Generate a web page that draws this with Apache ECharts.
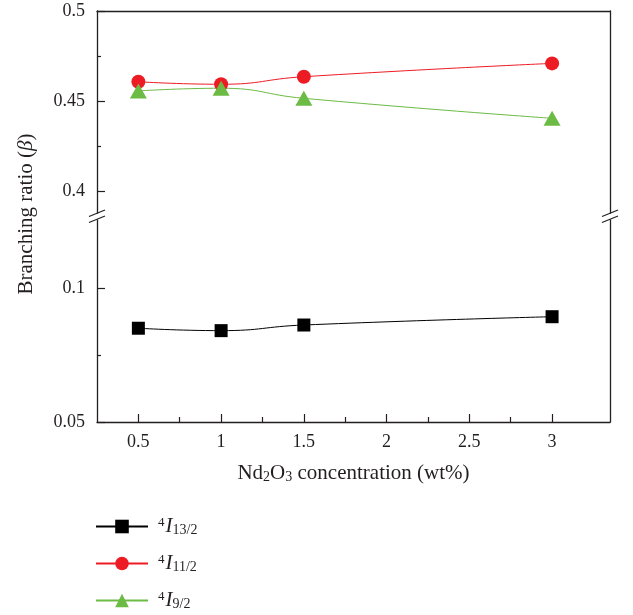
<!DOCTYPE html>
<html>
<head>
<meta charset="utf-8">
<script src="https://cdn.jsdelivr.net/npm/echarts@6/dist/echarts.min.js"></script>
<style>
  html, body { margin: 0; padding: 0; background: #fff; }
  #chart { width: 633px; height: 615px; }
</style>
</head>
<body>
<div id="chart"></div>
<script>
const concentration = [0.5, 1, 1.5, 3];
const beta13 = [0.0850, 0.0841, 0.0862, 0.0893];
const beta11 = [0.4607, 0.4593, 0.4635, 0.4709];
const beta9 = [0.4556, 0.4571, 0.4515, 0.4404];

const xTicks = [0.5, 1, 1.5, 2, 2.5, 3];
const xMinorTicks = [0.75, 1.25, 1.75, 2.25, 2.75];
const upperTicks = [0.4, 0.45, 0.5];
const upperMinorTicks = [0.425, 0.475];
const lowerTicks = [0.05, 0.1];
const lowerMinorTicks = [0.075];

const chart = echarts.init(document.getElementById('chart'));

const font = 'Liberation Serif';
const axisColor = '#231f20';
const colors = { i13: '#000000', i11: '#ed1c24', i9: '#6cbb45' };

const X_MIN = 0.25, X_MAX = 3.35;
const UP_MIN = 0.3878, UP_MAX = 0.5;
const LOW_MIN = 0.05, LOW_MAX = 0.1254;

const plotLeft = 97, plotRight = 610;

const pairs = (ys) => concentration.map((x, i) => [x, ys[i]]);

const lineAxis = { lineStyle: { color: axisColor, width: 1.3 } };

const yAxisFor = (gridIndex, min, max, values, major) => ({
  type: 'value', gridIndex, min, max, position: 'left',
  axisLine: { show: major, ...lineAxis },
  axisTick: { show: true, inside: true, length: major ? 8 : 4, customValues: values, lineStyle: { color: axisColor, width: 1.2 } },
  axisLabel: { show: major, customValues: values, margin: 12, color: axisColor, fontFamily: font, fontSize: 18 },
  splitLine: { show: false }
});

const yRightFor = (gridIndex, min, max) => ({
  type: 'value', gridIndex, min, max, position: 'right',
  axisLine: { show: true, onZero: false, ...lineAxis },
  axisTick: { show: false }, axisLabel: { show: false }, splitLine: { show: false }
});

const legendNames = {
  '4I13/2': '{sup|4}{it|I}{sub|13/2}',
  '4I11/2': '{sup|4}{it|I}{sub|11/2}',
  '4I9/2': '{sup|4}{it|I}{sub|9/2}'
};

const breakMark = (cx) => [
  { type: 'line', shape: { x1: cx - 8, y1: 222.5, x2: cx + 8, y2: 216 }, style: { stroke: axisColor, lineWidth: 1.2 } },
  { type: 'line', shape: { x1: cx - 8, y1: 216.5, x2: cx + 8, y2: 210 }, style: { stroke: axisColor, lineWidth: 1.2 } }
];

chart.setOption({
  animation: false,
  backgroundColor: '#fff',
  grid: [
    { left: plotLeft, right: 633 - plotRight, top: 11, height: 202 },
    { left: plotLeft, right: 633 - plotRight, top: 220, height: 202 }
  ],
  xAxis: [
    {
      type: 'value', gridIndex: 0, min: X_MIN, max: X_MAX, position: 'top',
      axisLine: { show: true, onZero: false, ...lineAxis },
      axisTick: { show: false }, axisLabel: { show: false }, splitLine: { show: false }
    },
    {
      type: 'value', gridIndex: 1, min: X_MIN, max: X_MAX, position: 'bottom',
      axisLine: { show: true, onZero: false, ...lineAxis },
      axisTick: { show: true, inside: true, length: 8, customValues: xTicks, lineStyle: { color: axisColor, width: 1.2 } },
      axisLabel: { customValues: xTicks, margin: 11, color: axisColor, fontFamily: font, fontSize: 18 },
      splitLine: { show: false },
      name: 'Nd{sub|2}O{sub|3} concentration (wt%)',
      nameLocation: 'middle',
      nameGap: 41,
      nameTextStyle: {
        color: axisColor, fontFamily: font, fontSize: 21,
        rich: {
          sub: { fontFamily: font, fontSize: 14, color: axisColor, verticalAlign: 'bottom', padding: [6, 0, 0, 0] }
        }
      }
    },
    {
      type: 'value', gridIndex: 1, min: X_MIN, max: X_MAX, position: 'bottom',
      axisLine: { show: false },
      axisTick: { show: true, inside: true, length: 5, customValues: xMinorTicks, lineStyle: { color: axisColor, width: 1.2 } },
      axisLabel: { show: false }, splitLine: { show: false }
    }
  ],
  yAxis: [
    yAxisFor(0, UP_MIN, UP_MAX, upperTicks, true),
    yAxisFor(0, UP_MIN, UP_MAX, upperMinorTicks, false),
    yRightFor(0, UP_MIN, UP_MAX),
    yAxisFor(1, LOW_MIN, LOW_MAX, lowerTicks, true),
    yAxisFor(1, LOW_MIN, LOW_MAX, lowerMinorTicks, false),
    yRightFor(1, LOW_MIN, LOW_MAX)
  ],
  legend: {
    orient: 'vertical',
    left: 95,
    top: 516,
    padding: 0,
    itemWidth: 52,
    itemHeight: 17,
    itemGap: 16,
    data: ['4I13/2', '4I11/2', '4I9/2'],
    formatter: (name) => legendNames[name],
    textStyle: {
      color: axisColor, fontFamily: font, fontSize: 20,
      padding: [0, 0, 0, 5],
      rich: {
        sup: { fontFamily: font, fontSize: 13, color: axisColor, verticalAlign: 'top', padding: [0, 1, 6, 0] },
        it: { fontFamily: font, fontSize: 21, fontStyle: 'italic', color: axisColor },
        sub: { fontFamily: font, fontSize: 14, color: axisColor, verticalAlign: 'bottom', padding: [5, 0, 0, 0] }
      }
    }
  },
  graphic: [
    {
      type: 'text', x: 26, y: 214, rotation: Math.PI / 2,
      style: {
        text: 'Branching ratio ({it|β})',
        fill: axisColor, fontFamily: font, fontSize: 21,
        align: 'center', verticalAlign: 'middle',
        rich: { it: { fontFamily: font, fontSize: 21, fontStyle: 'italic', fill: axisColor } }
      }
    },
    ...breakMark(plotLeft),
    ...breakMark(plotRight)
  ],
  series: [
    {
      name: '4I13/2', type: 'line', xAxisIndex: 1, yAxisIndex: 3,
      data: pairs(beta13), smooth: true,
      symbol: 'rect', symbolSize: 13,
      lineStyle: { color: colors.i13, width: 1 }, itemStyle: { color: colors.i13 }
    },
    {
      name: '4I11/2', type: 'line', xAxisIndex: 0, yAxisIndex: 0,
      data: pairs(beta11), smooth: true,
      symbol: 'circle', symbolSize: 14,
      lineStyle: { color: colors.i11, width: 1 }, itemStyle: { color: colors.i11 }
    },
    {
      name: '4I9/2', type: 'line', xAxisIndex: 0, yAxisIndex: 0,
      data: pairs(beta9), smooth: true,
      symbol: 'triangle', symbolSize: [17, 15],
      lineStyle: { color: colors.i9, width: 1 }, itemStyle: { color: colors.i9 }
    }
  ]
});

window.addEventListener('resize', () => chart.resize());
</script>
</body>
</html>
